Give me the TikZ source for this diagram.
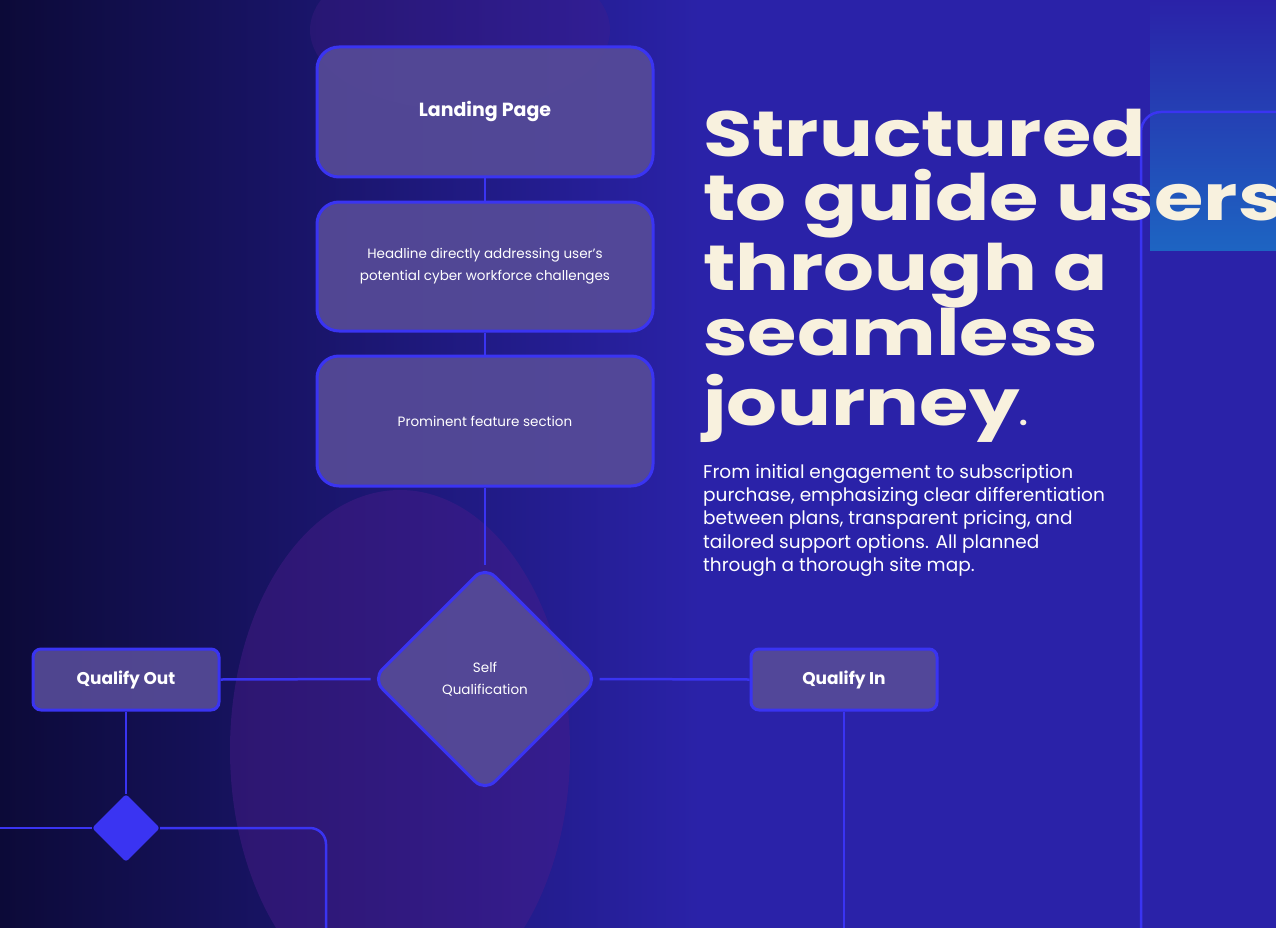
\documentclass[tikz,border=0pt]{standalone}
\usepackage{fontspec}
\setmainfont{Poppins}
\newfontfamily\wide{Poppins}
\usetikzlibrary{shapes.geometric}
\definecolor{bgA}{HTML}{0C0A38}
\definecolor{bgB}{HTML}{2A22A8}
\definecolor{glow}{HTML}{4A1C8A}
\definecolor{edge}{HTML}{3A34F2}
\definecolor{boxfill}{HTML}{574C98}
\definecolor{cream}{HTML}{F8F1DE}
\tikzset{
  box/.style={draw=edge,line width=3pt,fill=boxfill,fill opacity=0.9,text opacity=1,rounded corners=22pt,text=white,align=center,inner sep=0pt},
  pill/.style={draw=edge,line width=3pt,fill=boxfill,fill opacity=0.9,text opacity=1,rounded corners=8pt,text=white,inner sep=0pt,font=\wide\bfseries\fontsize{17}{20}\selectfont},
  wire/.style={draw=edge,line width=2.5pt},
  ttl/.style={text=cream,font=\wide\bfseries\fontsize{64}{70}\selectfont,anchor=base west,inner sep=0pt}
}
\begin{document}
\begin{tikzpicture}[x=1pt,y=-1pt]
\useasboundingbox (0,0) rectangle (1276,928);
\clip (0,0) rectangle (1276,928);
\shade[left color=bgA,right color=bgB] (0,0) rectangle (700,928);
\fill[bgB] (700,0) rectangle (1276,928);
\shade[top color=bgB,bottom color=bgB!70!cyan] (1150,0) rectangle (1276,250);
\fill[glow,opacity=0.45] (400,750) ellipse (170pt and 260pt);
\fill[glow,opacity=0.3] (460,30) ellipse (150pt and 80pt);
\node[box,minimum width=336pt,minimum height=130pt,font=\wide\bfseries\fontsize{19}{22}\selectfont] (lp) at (485,112) {Landing Page};
\node[box,minimum width=336pt,minimum height=129pt,font=\fontsize{13.5}{22}\selectfont] (hl) at (485,266.5) {Headline directly addressing user's\\potential cyber workforce challenges};
\node[box,minimum width=336pt,minimum height=130pt,font=\fontsize{13.5}{22}\selectfont] (pf) at (485,421) {Prominent feature section};
\node[draw=edge,line width=3pt,fill=boxfill,fill opacity=0.9,text opacity=1,diamond,rounded corners=14pt,minimum width=226pt,minimum height=226pt,inner sep=0pt,text=white,align=center,font=\fontsize{13.5}{22}\selectfont] (sq) at (485,679) {Self\\Qualification};
\node[pill,minimum width=186pt,minimum height=61pt] (qo) at (126,679.5) {Qualify Out};
\node[pill,minimum width=186pt,minimum height=61pt] (qi) at (844,679.5) {Qualify In};
\node[diamond,fill=edge,minimum width=68pt,minimum height=68pt,inner sep=0pt,rounded corners=3pt] (sd) at (126,828) {};
\coordinate (le) at (0,828);
\coordinate (rd) at (326,928);
\coordinate (qd) at (844,928);
\coordinate (pb) at (1141,928);
\coordinate (pr) at (1276,112);
\draw[wire] (lp.south) -- (hl.north);
\draw[wire] (hl.south) -- (pf.north);
\draw[wire] (pf.south) -- (sq.north);
\draw[wire] (qo.east) -- (sq.west);
\draw[wire] (sq.east) -- (qi.west);
\draw[wire] (qo.south) -- (sd.north);
\draw[wire] (sd.west) -- (le);
\draw[wire,rounded corners=16pt] (sd.east) -| (rd);
\draw[wire] (qi.south) -- (qd);
\draw[wire,rounded corners=20pt] (pb) |- (pr);
\node[ttl] (t1) at (703,157) {\scalebox{1.25}[1]{Structured}};
\node[ttl] (t2) at (703,220) {\scalebox{1.25}[1]{to guide users}};
\node[ttl] (t3) at (703,290) {\scalebox{1.25}[1]{through a}};
\node[ttl] (t4) at (703,355) {\scalebox{1.25}[1]{seamless}};
\node[ttl] (t5) at (703,425) {\scalebox{1.25}[1]{journey}\fontsize{30}{30}\selectfont.};
\node[anchor=north west,inner sep=0pt,text=white,align=left,font=\fontsize{18.5}{23.3}\selectfont] (para) at (703,464) {From initial engagement to subscription\\purchase, emphasizing clear differentiation\\between plans, transparent pricing, and\\tailored support options. All planned\\through a thorough site map.};
\end{tikzpicture}
\end{document}
